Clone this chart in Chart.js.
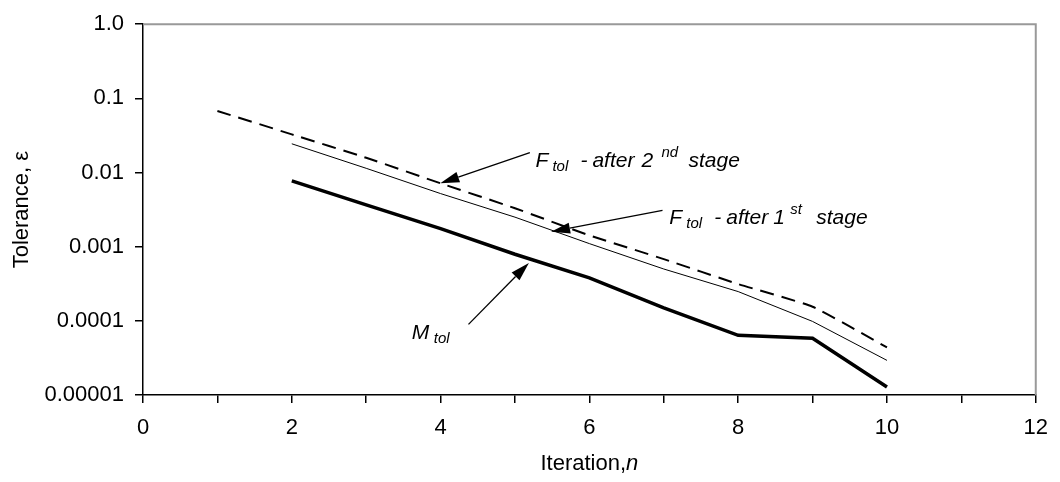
<!DOCTYPE html>
<html>
<head>
<meta charset="utf-8">
<script src="https://cdn.jsdelivr.net/npm/chart.js@4.4.0/dist/chart.umd.min.js"></script>
<style>
html,body{margin:0;padding:0;background:#fff;}
#wrap{width:1060px;height:482px;position:relative;}
</style>
</head>
<body>
<div id="wrap"><canvas id="c" width="1060" height="482"></canvas></div>
<script>
// ---- data ----
const iterationsF2 = [1, 2, 3, 4, 5, 6, 7, 8, 9, 10];
const ftolAfter2nd = [0.0677, 0.0327, 0.0158, 0.00715, 0.0033, 0.00142, 0.00068, 0.000313, 0.000155, 0.0000438];
const iterations = [2, 3, 4, 5, 6, 7, 8, 9, 10];
const ftolAfter1st = [0.0244, 0.0114, 0.0052, 0.0025, 0.0011, 0.0005, 0.000248, 0.0000982, 0.0000293];
const mtol = [0.00773, 0.00367, 0.00175, 0.00079, 0.00038, 0.00015, 0.0000637, 0.0000582, 0.0000128];
const yTickValues = [0.00001, 0.0001, 0.001, 0.01, 0.1, 1];
const yTickLabels = ['0.00001', '0.0001', '0.001', '0.01', '0.1', '1.0'];
const xLabeledTicks = [0, 2, 4, 6, 8, 10, 12];
const yTitle = 'Tolerance, \u03b5';
const xTitleMain = 'Iteration,';
const xTitleVar = 'n';

const FONT = "'Liberation Sans', Arial, sans-serif";

// annotations (anchor / arrow positions in data coordinates)
const annotations = [
  { tail: {x: 5.2, y: 0.0186}, tip: {x: 3.996, y: 0.00715}, anchor: {x: 5.275, y: 0.0117},
    segs: [{t:'F', dx:0}, {t:'tol', dx:17, sub:true}, {t:'-', dx:45}, {t:'after', dx:57}, {t:'2', dx:106}, {t:'nd', dx:126, sup:true}, {t:'stage', dx:153}] },
  { tail: {x: 6.983, y: 0.00309}, tip: {x: 5.485, y: 0.00159}, anchor: {x: 7.073, y: 0.00202},
    segs: [{t:'F', dx:0}, {t:'tol', dx:17, sub:true}, {t:'-', dx:45}, {t:'after', dx:57}, {t:'1', dx:104}, {t:'st', dx:121, sup:true}, {t:'stage', dx:147}] },
  { tail: {x: 4.375, y: 0.0000897}, tip: {x: 5.187, y: 0.000604}, anchor: {x: 3.612, y: 0.000057},
    segs: [{t:'M', dx:0}, {t:'tol', dx:22, sub:true}] }
];

const framePlugin = {
  id: 'frame',
  afterDraw(chart) {
    const {ctx, chartArea: a} = chart;
    ctx.save();
    ctx.strokeStyle = '#999';
    ctx.lineWidth = 2;
    ctx.beginPath();
    ctx.moveTo(a.left, a.top);
    ctx.lineTo(a.right, a.top);
    ctx.lineTo(a.right, a.bottom);
    ctx.stroke();
    ctx.restore();
    // x axis title with italic variable
    ctx.save();
    ctx.fillStyle = '#000';
    ctx.textBaseline = 'middle';
    ctx.font = '22px ' + FONT;
    const w1 = ctx.measureText(xTitleMain).width;
    ctx.font = 'italic 22px ' + FONT;
    const w2 = ctx.measureText(xTitleVar).width;
    const cx = (a.left + a.right) / 2;
    const y = 464;
    let x = cx - (w1 + w2) / 2;
    ctx.font = '22px ' + FONT;
    ctx.textAlign = 'left';
    ctx.fillText(xTitleMain, x, y);
    ctx.font = 'italic 22px ' + FONT;
    ctx.fillText(xTitleVar, x + w1, y);
    ctx.restore();
  }
};

const annPlugin = {
  id: 'ann',
  afterDatasetsDraw(chart) {
    const {ctx} = chart;
    const xs = chart.scales.x, ys = chart.scales.y;
    const P = p => ({x: xs.getPixelForValue(p.x), y: ys.getPixelForValue(p.y)});
    ctx.save();
    annotations.forEach(a => {
      const t0 = P(a.tail), t1 = P(a.tip);
      const ang = Math.atan2(t1.y - t0.y, t1.x - t0.x);
      const L = 19, H = 5.5;
      const bx = t1.x - L * Math.cos(ang), by = t1.y - L * Math.sin(ang);
      ctx.strokeStyle = '#000';
      ctx.fillStyle = '#000';
      ctx.lineWidth = 1.3;
      ctx.beginPath();
      ctx.moveTo(t0.x, t0.y);
      ctx.lineTo(bx, by);
      ctx.stroke();
      ctx.beginPath();
      ctx.moveTo(t1.x, t1.y);
      ctx.lineTo(bx + H * Math.sin(ang), by - H * Math.cos(ang));
      ctx.lineTo(bx - H * Math.sin(ang), by + H * Math.cos(ang));
      ctx.closePath();
      ctx.fill();
      const an = P(a.anchor);
      ctx.textBaseline = 'alphabetic';
      ctx.textAlign = 'left';
      a.segs.forEach(s => {
        let size = 21, dy = 0;
        if (s.sub) { size = 15; dy = 4; }
        if (s.sup) { size = 15; dy = -10; }
        ctx.font = 'italic ' + size + 'px ' + FONT;
        ctx.fillText(s.t, an.x + s.dx, an.y + dy);
      });
    });
    ctx.restore();
  }
};

const ctx = document.getElementById('c').getContext('2d');
new Chart(ctx, {
  type: 'line',
  data: {
    datasets: [
      { label: 'F tol - after 2nd stage',
        data: iterationsF2.map((x, i) => ({x, y: ftolAfter2nd[i]})),
        borderColor: '#000', borderWidth: 2, borderDash: [14, 8], pointRadius: 0, tension: 0.15, fill: false },
      { label: 'F tol - after 1st stage',
        data: iterations.map((x, i) => ({x, y: ftolAfter1st[i]})),
        borderColor: '#000', borderWidth: 1, pointRadius: 0, tension: 0, fill: false },
      { label: 'M tol',
        data: iterations.map((x, i) => ({x, y: mtol[i]})),
        borderColor: '#000', borderWidth: 3.5, pointRadius: 0, tension: 0, fill: false }
    ]
  },
  options: {
    responsive: false,
    animation: false,
    devicePixelRatio: 1,
    layout: { padding: { top: 15, right: 20, left: 0, bottom: 0 } },
    plugins: { legend: { display: false }, tooltip: { enabled: false } },
    scales: {
      x: {
        type: 'linear', min: 0, max: 12,
        ticks: {
          stepSize: 1, autoSkip: false, maxRotation: 0, color: '#000', padding: 12,
          font: { family: FONT, size: 22 },
          callback: v => xLabeledTicks.includes(v) ? String(v) : ''
        },
        grid: { drawOnChartArea: false, drawTicks: true, tickLength: 8, color: '#000', lineWidth: 1.5 },
        border: { color: '#000', width: 1.5 },
        afterFit: s => { s.height = 87; }
      },
      y: {
        type: 'logarithmic', min: 0.00001, max: 1,
        afterBuildTicks: s => { s.ticks = yTickValues.map(v => ({value: v})); },
        ticks: {
          color: '#000', padding: 11, font: { family: FONT, size: 22 },
          callback: (v) => { const i = yTickValues.indexOf(v); return i >= 0 ? yTickLabels[i] : ''; }
        },
        grid: { drawOnChartArea: false, drawTicks: true, tickLength: 8, color: '#000', lineWidth: 1.5 },
        border: { color: '#000', width: 1.5 },
        title: { display: true, text: yTitle, color: '#000', font: { family: FONT, size: 22 }, padding: { top: 9, bottom: 0 } },
        afterFit: s => { s.width = 143; }
      }
    }
  },
  plugins: [framePlugin, annPlugin]
});
</script>
</body>
</html>
